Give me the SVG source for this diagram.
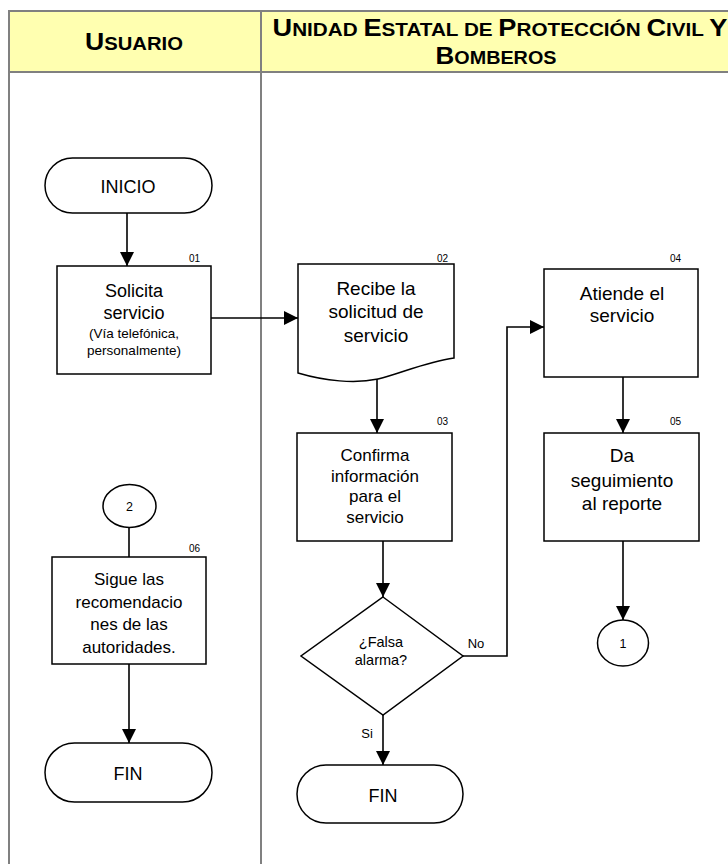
<svg xmlns="http://www.w3.org/2000/svg" width="728" height="864" viewBox="0 0 728 864">
<style>
.lane{stroke:#808080;stroke-width:2;fill:none}
.hdr{fill:#FFFFB0;stroke:#808080;stroke-width:2}
.shape{fill:#fff;stroke:#000;stroke-width:1.5}
.conn{fill:none;stroke:#000;stroke-width:1.6}
.t{font-family:"Liberation Sans",Arial,sans-serif;fill:#000;text-anchor:middle}
.num{font-family:"Liberation Sans",Arial,sans-serif;font-size:10px;fill:#000;text-anchor:end}
.hd{font-family:"Liberation Sans",Arial,sans-serif;font-weight:bold;fill:#000;text-anchor:middle;font-size:23px}
.sc{font-size:17.5px}
</style>
<defs>
<marker id="arr" markerUnits="userSpaceOnUse" markerWidth="14" markerHeight="16" viewBox="0 0 14 16" refX="14" refY="7" orient="auto">
<path d="M0,0 L14,7 L0,14 Z" fill="#000"/>
</marker>
</defs>
<rect width="728" height="864" fill="#fff"/>
<g id="lanes">
<rect x="9" y="11" width="740" height="61" class="hdr"/>
<line x1="9" y1="11" x2="9" y2="864" class="lane"/>
<line x1="261" y1="11" x2="261" y2="864" class="lane" stroke-width="1.5"/>
<text class="hd" x="134" y="50" textLength="98" lengthAdjust="spacingAndGlyphs">U<tspan class="sc">SUARIO</tspan></text>
<text class="hd" x="500" y="36" textLength="455" lengthAdjust="spacingAndGlyphs">U<tspan class="sc">NIDAD </tspan>E<tspan class="sc">STATAL DE </tspan>P<tspan class="sc">ROTECCIÓN </tspan>C<tspan class="sc">IVIL </tspan>Y</text>
<text class="hd" x="496" y="64" textLength="121" lengthAdjust="spacingAndGlyphs">B<tspan class="sc">OMBEROS</tspan></text>
</g>
<g id="connectors">
<line x1="127" y1="213" x2="127" y2="266" class="conn" marker-end="url(#arr)"/>
<line x1="211" y1="318" x2="298" y2="318" class="conn" marker-end="url(#arr)"/>
<line x1="377" y1="378" x2="377" y2="433" class="conn" marker-end="url(#arr)"/>
<line x1="383" y1="541" x2="383" y2="597" class="conn" marker-end="url(#arr)"/>
<polyline points="463,656 507,656 507,327 544,327" class="conn" marker-end="url(#arr)"/>
<line x1="383" y1="715" x2="383" y2="765" class="conn" marker-end="url(#arr)"/>
<line x1="623" y1="377" x2="623" y2="433" class="conn" marker-end="url(#arr)"/>
<line x1="623" y1="541" x2="623" y2="620" class="conn" marker-end="url(#arr)"/>
<line x1="129" y1="528" x2="129" y2="557" class="conn"/>
<line x1="129" y1="664" x2="129" y2="743" class="conn" marker-end="url(#arr)"/>
<text class="t" x="476" y="648" font-size="13">No</text>
<text class="t" x="367" y="738" font-size="13">Si</text>
</g>
<g id="inicio">
<rect x="45" y="158" width="167" height="55" rx="27.5" class="shape"/>
<text class="t" x="128" y="193" font-size="18">INICIO</text>
</g>
<g id="n01">
<rect x="57" y="266" width="154" height="108" class="shape"/>
<text class="num" x="200" y="262">01</text>
<text class="t" x="134" y="297" font-size="18">Solicita</text>
<text class="t" x="134" y="319" font-size="18">servicio</text>
<text class="t" x="134" y="338" font-size="13.5">(Vía telefónica,</text>
<text class="t" x="134" y="355" font-size="13.5">personalmente)</text>
</g>
<g id="n02">
<path d="M298,264 H454 V358 C425,362 400,374 378,379 C355,384 325,381 298,373 Z" class="shape"/>
<text class="num" x="448" y="262">02</text>
<text class="t" x="376" y="295" font-size="19">Recibe la</text>
<text class="t" x="376" y="318" font-size="19">solicitud de</text>
<text class="t" x="376" y="342" font-size="19">servicio</text>
</g>
<g id="n03">
<rect x="297" y="433" width="155" height="108" class="shape"/>
<text class="num" x="448" y="425">03</text>
<text class="t" x="375" y="461" font-size="17">Confirma</text>
<text class="t" x="375" y="482" font-size="17">información</text>
<text class="t" x="375" y="502" font-size="17">para el</text>
<text class="t" x="375" y="523" font-size="17">servicio</text>
</g>
<g id="decision">
<polygon points="383,597 463,656 383,715 301,656" class="shape"/>
<text class="t" x="381" y="647" font-size="14.5">¿Falsa</text>
<text class="t" x="381" y="665" font-size="14.5">alarma?</text>
</g>
<g id="fin2">
<rect x="297" y="765" width="166" height="58" rx="29" class="shape"/>
<text class="t" x="383" y="802" font-size="18">FIN</text>
</g>
<g id="n04">
<rect x="544" y="269" width="154" height="108" class="shape"/>
<text class="num" x="681" y="262">04</text>
<text class="t" x="622" y="300" font-size="19">Atiende el</text>
<text class="t" x="622" y="322" font-size="19">servicio</text>
</g>
<g id="n05">
<rect x="544" y="433" width="155" height="108" class="shape"/>
<text class="num" x="681" y="425">05</text>
<text class="t" x="622" y="462" font-size="19">Da</text>
<text class="t" x="622" y="487" font-size="19">seguimiento</text>
<text class="t" x="622" y="510" font-size="19">al reporte</text>
</g>
<g id="c1">
<ellipse cx="623" cy="643" rx="25.5" ry="23" class="shape"/>
<text class="t" x="623" y="648" font-size="12.5">1</text>
</g>
<g id="c2">
<ellipse cx="129.5" cy="506" rx="26.5" ry="21.5" class="shape"/>
<text class="t" x="129.5" y="511" font-size="12.5">2</text>
</g>
<g id="n06">
<rect x="52" y="557" width="154" height="107" class="shape"/>
<text class="num" x="200" y="552">06</text>
<text class="t" x="129" y="585" font-size="17">Sigue las</text>
<text class="t" x="129" y="608" font-size="17">recomendacio</text>
<text class="t" x="129" y="630" font-size="17">nes de las</text>
<text class="t" x="129" y="653" font-size="17">autoridades.</text>
</g>
<g id="fin1">
<rect x="45" y="743" width="167" height="59" rx="29.5" class="shape"/>
<text class="t" x="128" y="780" font-size="18">FIN</text>
</g>
</svg>
